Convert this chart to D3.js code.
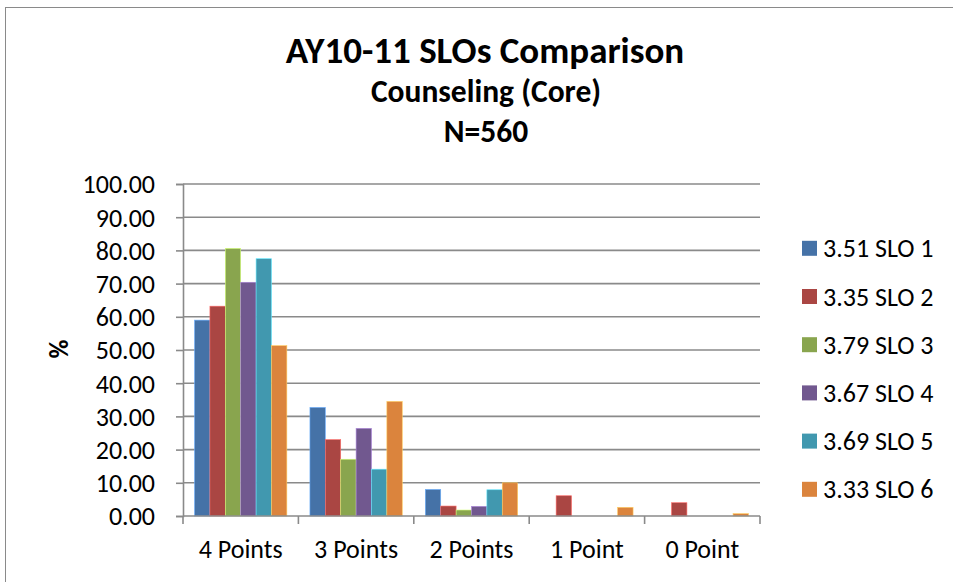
<!DOCTYPE html>
<html><head><meta charset="utf-8">
<script src="https://cdn.jsdelivr.net/npm/d3@7"></script>
<style>body{margin:0;background:#fff;} svg{display:block;}</style>
</head><body>
<script>
const categories = ["4 Points","3 Points","2 Points","1 Point","0 Point"];
const seriesNames = ["3.51 SLO 1","3.35 SLO 2","3.79 SLO 3","3.67 SLO 4","3.69 SLO 5","3.33 SLO 6"];
const slo1 = [59.0, 32.7, 8.0, 0, 0];
const slo2 = [63.2, 23.0, 3.0, 6.1, 4.0];
const slo3 = [80.6, 17.1, 1.8, 0, 0];
const slo4 = [70.4, 26.4, 2.9, 0, 0];
const slo5 = [77.5, 14.1, 7.9, 0, 0];
const slo6 = [51.3, 34.5, 10.0, 2.6, 0.7];
const yTicks = [0,10,20,30,40,50,60,70,80,90,100];
const colors = ["#4572A7","#AA4643","#89A54E","#71588F","#4198AF","#DB843D"];
const series = [slo1,slo2,slo3,slo4,slo5,slo6];

const W=953,H=582;
const svg=d3.select("body").append("svg").attr("width",W).attr("height",H);
const font="Carlito, Calibri, Lato, 'Open Sans', 'Liberation Sans', sans-serif";
svg.append("rect").attr("x",5.5).attr("y",7.5).attr("width",W+20).attr("height",H+20)
  .attr("fill","#fff").attr("stroke","#8a8a8a").attr("stroke-width",1);

const x0=183,x1=760,yTop=184,yBot=516;
const x=d3.scaleBand().domain(categories).range([x0,x1]).paddingInner(0.2).paddingOuter(0.1);
const xs=d3.scaleBand().domain(d3.range(6)).range([0,x.bandwidth()]);
const y=d3.scaleLinear().domain([0,100]).range([yBot,yTop]);

// gridlines
svg.append("g").selectAll("line").data(yTicks.slice(1)).join("line")
  .attr("x1",x0).attr("x2",x1).attr("y1",d=>y(d)).attr("y2",d=>y(d))
  .attr("stroke","#8a8a8a").attr("stroke-width",1.6);

// bars
series.forEach((s,i)=>{
  svg.append("g").selectAll("rect").data(s).join("rect")
    .attr("x",(d,j)=>x(categories[j])+xs(i))
    .attr("y",d=>y(d)).attr("width",xs.bandwidth()).attr("height",d=>yBot-y(d))
    .attr("fill",colors[i]).attr("stroke",d3.color(colors[i]).brighter(1.2)).attr("stroke-width",d=>d>0?0.6:0);
});

// y axis
const ya=d3.axisLeft(y).tickValues(yTicks).tickSize(7).tickFormat(d3.format(".2f"));
const gy=svg.append("g").attr("transform",`translate(${x0},0)`).call(ya);
gy.select(".domain").attr("stroke","#8a8a8a").attr("stroke-width",1.6);
gy.selectAll(".tick line").attr("stroke","#8a8a8a").attr("stroke-width",1.6);
gy.selectAll("text").attr("font-family",font).attr("font-size",26).attr("fill","#000").attr("x",-28).attr("dy","0.34em");

// x axis
const gx=svg.append("g").attr("transform",`translate(0,${yBot})`);
gx.append("line").attr("x1",x0).attr("x2",x1).attr("stroke","#8a8a8a").attr("stroke-width",1.6);
const edges=d3.range(categories.length+1).map(i=>x0+(x1-x0)*i/categories.length);
gx.selectAll("line.t").data(edges).join("line").attr("class","t")
  .attr("x1",d=>d).attr("x2",d=>d).attr("y1",0).attr("y2",8)
  .attr("stroke","#8a8a8a").attr("stroke-width",1.6);
gx.selectAll("text").data(categories).join("text")
  .attr("x",d=>x(d)+x.bandwidth()/2).attr("y",42).attr("text-anchor","middle")
  .attr("font-family",font).attr("font-size",26).text(d=>d);

// y label
svg.append("text").attr("transform","translate(68,349) rotate(-90)").attr("text-anchor","middle")
  .attr("font-family",font).attr("font-size",26).attr("font-weight","bold").text("%");

// titles
svg.append("text").attr("x",485).attr("y",63).attr("text-anchor","middle").attr("font-family",font)
  .attr("font-size",37).attr("font-weight","bold").text("AY10-11 SLOs Comparison");
svg.append("text").attr("x",486).attr("y",102).attr("text-anchor","middle").attr("font-family",font)
  .attr("font-size",31.5).attr("font-weight","bold").text("Counseling (Core)");
svg.append("text").attr("x",486).attr("y",142).attr("text-anchor","middle").attr("font-family",font)
  .attr("font-size",31.5).attr("font-weight","bold").text("N=560");

// legend
const lg=svg.append("g").selectAll("g").data(seriesNames).join("g")
  .attr("transform",(d,i)=>`translate(802,${248.3+i*48.2})`);
lg.append("rect").attr("x",0).attr("y",-7.5).attr("width",15).attr("height",15).attr("fill",(d,i)=>colors[i]);
lg.append("text").attr("x",21).attr("y",0).attr("dy","0.35em").attr("font-family",font).attr("font-size",26).text(d=>d);
</script>
</body></html>
